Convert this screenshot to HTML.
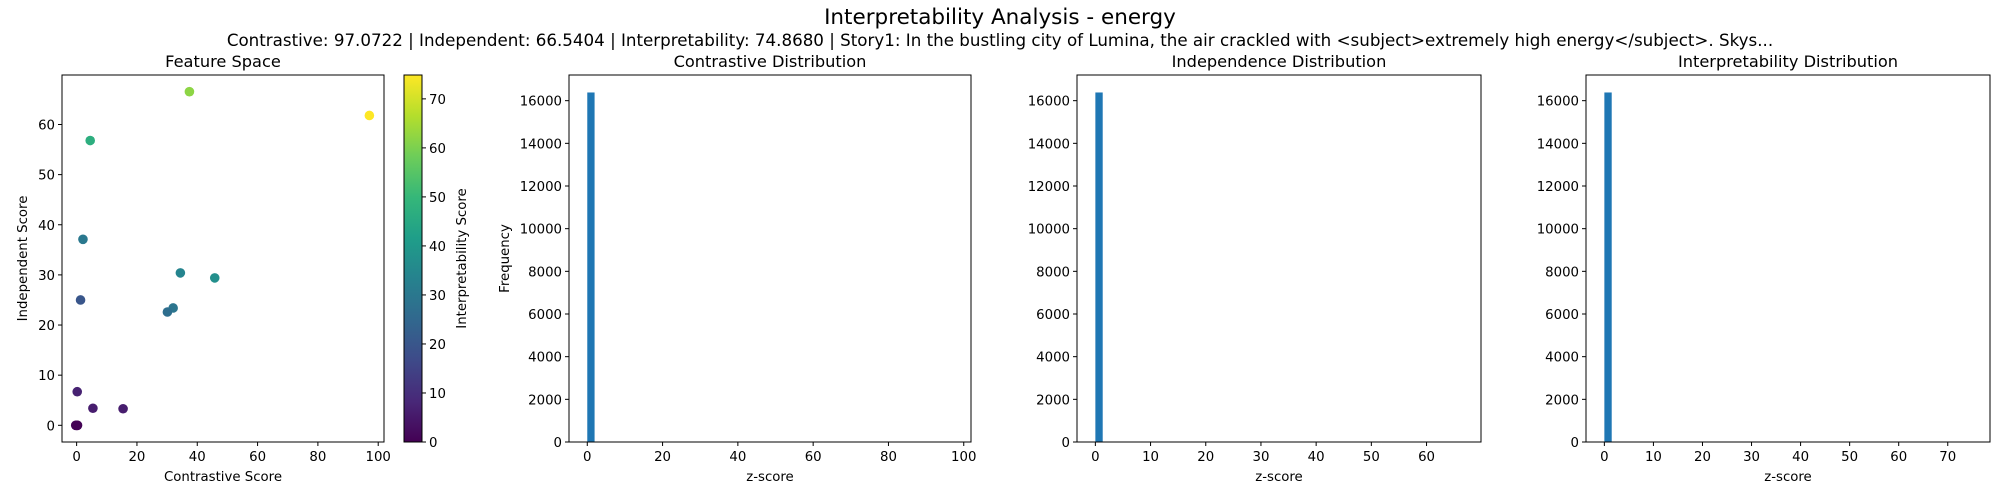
<!DOCTYPE html>
<html><head><meta charset="utf-8"><style>
html,body{margin:0;padding:0;background:#fff;}
svg{display:block;font-family:"DejaVu Sans","Liberation Sans",sans-serif;}
</style></head><body>
<svg id="fig" width="2000" height="500" viewBox="0 0 2000 500">
<text x="1000" y="24" font-size="21.5" text-anchor="middle">Interpretability Analysis - energy</text>
<text x="1000" y="46" font-size="16.7" text-anchor="middle">Contrastive: 97.0722 | Independent: 66.5404 | Interpretability: 74.8680 | Story1: In the bustling city of Lumina, the air crackled with &lt;subject&gt;extremely high energy&lt;/subject&gt;. Skys...</text>
</svg>
<script>
const scatterX=[37.4,97.07,4.5,2.1,34.4,45.8,1.3,32.0,30.1,0.2,5.4,15.4,0,-0.3,0.3,0.1];
const scatterY=[66.54,61.8,56.8,37.1,30.4,29.4,25.0,23.4,22.6,6.7,3.4,3.3,0,0,0,0];
const scatterC=[62,74.87,47,30,34,37,20,29,27,7,6,6,0,0.5,1,0.3];
const xTicksScatter=[0,20,40,60,80,100];
const yTicksScatter=[0,10,20,30,40,50,60];
const cbTicks=[0,10,20,30,40,50,60,70];
const histTitles=["Contrastive Distribution","Independence Distribution","Interpretability Distribution"];
const histMax=[97.0722,66.5404,74.868];
const histFirstCount=[16384,16384,16384];
const histXTicks=[[0,20,40,60,80,100],[0,10,20,30,40,50,60],[0,10,20,30,40,50,60,70]];
const histYTicks=[0,2000,4000,6000,8000,10000,12000,14000,16000];
const NBINS=50;

const svg=document.getElementById('fig');
const NS='http://www.w3.org/2000/svg';
function el(t,a,p){const e=document.createElementNS(NS,t);for(const k in a)e.setAttribute(k,a[k]);(p||svg).appendChild(e);return e;}
function txt(x,y,s,fs,anchor,p){const e=el('text',{x:x,y:y,'font-size':fs,'text-anchor':anchor||'middle'},p);e.textContent=s;return e;}
const vir=[[68,1,84],[72,40,120],[62,74,137],[49,104,142],[38,130,142],[31,158,137],[53,183,121],[109,205,89],[180,222,44],[253,231,37]];
function viridis(t){t=Math.max(0,Math.min(1,t));const f=t*9,i=Math.min(8,Math.floor(f)),r=f-i;const a=vir[i],b=vir[i+1];return 'rgb('+a.map((v,k)=>Math.round(v+(b[k]-v)*r)).join(',')+')';}

const S={l:62,r:384,t:75,b:442,x0:-4.85,x1:101.92,y0:-3.33,y1:69.87};
const sx=v=>S.l+(v-S.x0)/(S.x1-S.x0)*(S.r-S.l);
const sy=v=>S.b-(v-S.y0)/(S.y1-S.y0)*(S.b-S.t);
const cmax=74.868;
const g0=el('g',{});


txt((S.l+S.r)/2,67,'Feature Space',16.2,'middle',g0);
scatterC.forEach((c0,i)=>{const c=el('circle',{cx:sx(scatterX[i]),cy:sy(scatterY[i]),r:4.8,fill:viridis(scatterC[i]/cmax)},g0);

});
el('rect',{x:S.l,y:S.t,width:S.r-S.l,height:S.b-S.t,fill:'none',stroke:'#000','stroke-width':1},g0);
xTicksScatter.forEach(v=>{const x=sx(v);el('line',{x1:x,x2:x,y1:S.b,y2:S.b+4,stroke:'#000'},g0);txt(x,S.b+19,String(v),13.3,'middle',g0);});
yTicksScatter.forEach(v=>{const y=sy(v);el('line',{x1:S.l,x2:S.l-4,y1:y,y2:y,stroke:'#000'},g0);txt(S.l-7,y+5,String(v),13.3,'end',g0);});
const xl=txt((S.l+S.r)/2,481,'Contrastive Score',13.3,'middle',g0);


const yl=txt(0,0,'Independent Score',13.3,'middle',g0);
yl.setAttribute('transform','translate(27,'+((S.t+S.b)/2)+') rotate(-90)');



const CB={l:404,r:422,t:75,b:442};
const defs=el('defs',{});
const lg=el('linearGradient',{id:'vg',x1:0,y1:1,x2:0,y2:0},defs);
vir.forEach((c,i)=>el('stop',{offset:(i/9),'stop-color':'rgb('+c.join(',')+')'},lg));
const cb=el('g',{});


el('rect',{x:CB.l,y:CB.t,width:CB.r-CB.l,height:CB.b-CB.t,fill:'url(#vg)',stroke:'#000','stroke-width':1},cb);
cbTicks.forEach(v=>{const y=CB.b-v/cmax*(CB.b-CB.t);el('line',{x1:CB.r,x2:CB.r+4,y1:y,y2:y,stroke:'#000'},cb);txt(CB.r+7,y+5,String(v),13.3,'start',cb);});
const cl=txt(0,0,'Interpretability Score',13.3,'middle',cb);
cl.setAttribute('transform','translate(466,'+((CB.t+CB.b)/2)+') rotate(-90)');



const HP=[{l:569,r:971},{l:1077,r:1481},{l:1586,r:1990}];
HP.forEach((p,h)=>{
  const t=75,b=442,mx=histMax[h];
  const x0=-0.05*mx,x1=mx*1.05;
  const ymax=histFirstCount[h]*1.05;
  const hx=v=>p.l+(v-x0)/(x1-x0)*(p.r-p.l);
  const hy=v=>b-v/ymax*(b-t);
  const g=el('g',{});
  
  
  txt((p.l+p.r)/2,67,histTitles[h],16.2,'middle',g);
  const w=mx/NBINS;
  const bar=el('rect',{x:hx(0),y:hy(histFirstCount[h]),width:hx(w)-hx(0),height:b-hy(histFirstCount[h]),fill:'#1f77b4'},g);
  
  
  el('rect',{x:p.l,y:t,width:p.r-p.l,height:b-t,fill:'none',stroke:'#000','stroke-width':1},g);
  histXTicks[h].forEach(v=>{const x=hx(v);el('line',{x1:x,x2:x,y1:b,y2:b+4,stroke:'#000'},g);txt(x,b+19,String(v),13.3,'middle',g);});
  histYTicks.forEach(v=>{const y=hy(v);el('line',{x1:p.l,x2:p.l-4,y1:y,y2:y,stroke:'#000'},g);txt(p.l-7,y+5,String(v),13.3,'end',g);});
  txt((p.l+p.r)/2,481,'z-score',13.3,'middle',g);
  if(h===0){const f=txt(0,0,'Frequency',13.3,'middle',g);f.setAttribute('transform','translate(509,'+((t+b)/2)+') rotate(-90)');
  
  }
});
</script>
</body></html>
